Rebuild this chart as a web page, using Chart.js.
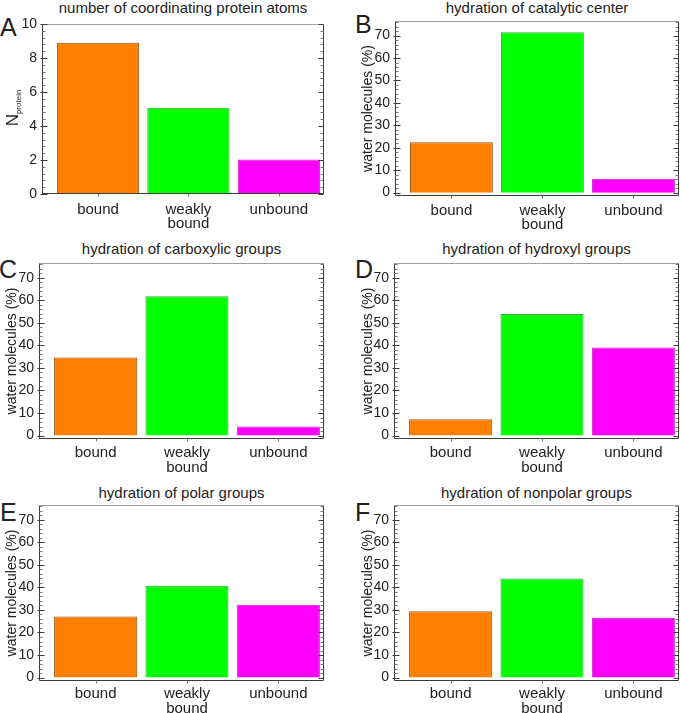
<!DOCTYPE html>
<html>
<head>
<meta charset="utf-8">
<script src="https://cdn.jsdelivr.net/npm/chart.js@4.4.0/dist/chart.umd.min.js"></script>
<style>
  html, body { margin: 0; padding: 0; background: #fff; overflow: hidden; }
  body { width: 681px; height: 713px; position: relative; font-family: "Liberation Sans", Arial, sans-serif; color: #222; }
  canvas { position: absolute; }
  .title { position: absolute; font-size: 15px; line-height: 15px; white-space: nowrap; transform: translateX(-50%); }
  .letter { position: absolute; font-size: 25px; line-height: 25px; }
</style>
</head>
<body>
<script>
const FONT = '"Liberation Sans", Arial, sans-serif';

// data
const categories = ['bound', ['weakly', 'bound'], 'unbound'];
const coordAtoms = [8.9, 5.07, 2.03];
const catalyticCenter = [22.5, 71.5, 6.2];
const carboxylic = [34.6, 61.8, 4.0];
const hydroxyl = [7.2, 53.9, 39.0];
const polar = [27.1, 40.7, 32.3];
const nonpolar = [29.4, 43.9, 26.5];
const nTicks = [0, 2, 4, 6, 8, 10];
const pctTicks = [0, 10, 20, 30, 40, 50, 60, 70];

const barFill = ['#ff8000', '#00ff00', '#ff00ff'];
const barEdge = ['#9a5516', '#3aa83a', '#c21cc2'];

// canvas = [left, top, width, height], plot = [left, top, right, bottom]
const panels = [
    { letter: 'A', title: 'number of coordinating protein atoms', values: coordAtoms, ticks: nTicks,
      ymin: 0, ymax: 10, minor: 0.4, per: 5, canvas: [0, 0, 340, 235], plot: [42, 24, 324, 194],
      letterPos: [0, 14.7], titleTop: -0.5, yTitle: null, labelPad: 8.5 },
    { letter: 'B', title: 'hydration of catalytic center', values: catalyticCenter, ticks: pctTicks,
      ymin: -1.5, ymax: 76.5, minor: 2, per: 5, canvas: [340, 0, 341, 235], plot: [395, 21, 679, 196],
      letterPos: [355, 11.7], titleTop: -0.5, yTitle: 19.9, labelPad: 7.5 },
    { letter: 'C', title: 'hydration of carboxylic groups', values: carboxylic, ticks: pctTicks,
      ymin: -1.5, ymax: 76.5, minor: 2, per: 5, canvas: [0, 235, 340, 241], plot: [39, 263, 324, 439],
      letterPos: [-1, 256.7], titleTop: 241.3, yTitle: 4.1, labelPad: 7 },
    { letter: 'D', title: 'hydration of hydroxyl groups', values: hydroxyl, ticks: pctTicks,
      ymin: -1.5, ymax: 76.5, minor: 2, per: 5, canvas: [340, 235, 341, 241], plot: [394, 263, 679, 439],
      letterPos: [355, 257], titleTop: 241.3, yTitle: 19.9, labelPad: 7 },
    { letter: 'E', title: 'hydration of polar groups', values: polar, ticks: pctTicks,
      ymin: -1.5, ymax: 76.5, minor: 2, per: 5, canvas: [0, 476, 340, 237], plot: [39, 505, 324, 681],
      letterPos: [0, 500], titleTop: 484.7, yTitle: 4.1, labelPad: 6 },
    { letter: 'F', title: 'hydration of nonpolar groups', values: nonpolar, ticks: pctTicks,
      ymin: -1.5, ymax: 76.5, minor: 2, per: 5, canvas: [340, 476, 341, 237], plot: [394, 505, 679, 681],
      letterPos: [355, 500], titleTop: 484.7, yTitle: 19.9, labelPad: 6 }
];

// box frame, inward minor/major ticks on both y sides, small ticks under categories
const framePlugin = {
    id: 'frame',
    afterDatasetsDraw(chart, args, o) {
        const { ctx, chartArea: a, scales: { x, y } } = chart;
        const line = (x1, y1, x2, y2) => { ctx.beginPath(); ctx.moveTo(x1, y1); ctx.lineTo(x2, y2); ctx.stroke(); };
        ctx.save();
        ctx.lineWidth = 1;
        const L = Math.round(a.left) + 0.5, R = Math.round(a.right) - 0.5;
        const T = Math.round(a.top) + 0.5, B = Math.round(a.bottom) - 0.5;
        ctx.strokeStyle = '#a0a0a0';
        line(L, T, R, T);
        ctx.strokeStyle = '#3a3a3a';
        line(L, T, L, B);
        line(R, T, R, B);
        line(L, B, R, B);

        const n = Math.round(o.top / o.minor);
        for (let k = 0; k <= n; k++) {
            const py = Math.round(y.getPixelForValue(k * o.minor)) + 0.5;
            if (py < a.top) continue;
            const major = k % o.per === 0;
            ctx.strokeStyle = major ? '#3a3a3a' : '#777';
            const len = major ? 5 : 3;
            line(L - (major ? 2 : 0), py, L + len, py);
            line(R - len, py, R, py);
        }
        ctx.strokeStyle = '#777';
        x.ticks.forEach(t => {
            const px = Math.round(x.getPixelForValue(t.value)) + 0.5;
            line(px, B, px, B + 3);
        });

        if (o.nLabel) {
            ctx.fillStyle = '#222';
            ctx.translate(18, 108);
            ctx.rotate(-Math.PI / 2);
            ctx.font = '17px ' + FONT;
            const wN = ctx.measureText('N').width;
            ctx.font = '8px ' + FONT;
            const wS = ctx.measureText('protein').width;
            const start = -(wN + wS) / 2;
            ctx.textBaseline = 'alphabetic';
            ctx.font = '17px ' + FONT;
            ctx.fillText('N', start, 0);
            ctx.font = '8px ' + FONT;
            ctx.fillText('protein', start + wN, 2.5);
        }
        ctx.restore();
    }
};

panels.forEach(p => {
    const [cl, ct, cw, ch] = p.canvas;
    const [pl, pt, pr, pb] = p.plot;

    const letter = document.createElement('div');
    letter.className = 'letter';
    letter.textContent = p.letter;
    letter.style.left = p.letterPos[0] + 'px';
    letter.style.top = p.letterPos[1] + 'px';
    document.body.appendChild(letter);

    const title = document.createElement('div');
    title.className = 'title';
    title.textContent = p.title;
    title.style.left = ((pl + pr) / 2) + 'px';
    title.style.top = p.titleTop + 'px';
    document.body.appendChild(title);

    const cv = document.createElement('canvas');
    cv.width = cw;
    cv.height = ch;
    cv.style.left = cl + 'px';
    cv.style.top = ct + 'px';
    cv.style.width = cw + 'px';
    cv.style.height = ch + 'px';
    document.body.appendChild(cv);

    new Chart(cv, {
        type: 'bar',
        data: {
            datasets: [{
                data: p.values.map((v, i) => ({ x: i + 1, y: v })),
                backgroundColor: barFill,
                borderColor: barEdge,
                borderWidth: 1,
                barPercentage: 0.91,
                categoryPercentage: 1
            }]
        },
        options: {
            responsive: false,
            animation: false,
            devicePixelRatio: 1,
            layout: { padding: { left: 0, top: pt - ct, right: cl + cw - pr, bottom: 0 } },
            plugins: {
                legend: { display: false },
                tooltip: { enabled: false },
                frame: { minor: p.minor, per: p.per, top: p.ymax, nLabel: p.yTitle === null }
            },
            scales: {
                x: {
                    type: 'linear',
                    offset: false,
                    min: 0.38,
                    max: 3.5,
                    grid: { display: false, drawTicks: false },
                    border: { display: false },
                    afterBuildTicks: s => { s.ticks = categories.map((c, i) => ({ value: i + 1 })); },
                    afterFit: s => { s.height = ct + ch - pb; },
                    ticks: {
                        autoSkip: false,
                        maxRotation: 0,
                        padding: p.labelPad,
                        color: '#222',
                        font: { size: 15, family: FONT, lineHeight: 0.95 },
                        callback: v => categories[v - 1]
                    }
                },
                y: {
                    min: p.ymin,
                    max: p.ymax,
                    grid: { display: false, drawTicks: false },
                    border: { display: false },
                    afterBuildTicks: s => { s.ticks = p.ticks.map(v => ({ value: v })); },
                    afterFit: s => { s.width = pl - cl; },
                    ticks: { padding: 5, color: '#222', font: { size: 14, family: FONT } },
                    title: {
                        display: p.yTitle !== null,
                        text: 'water molecules (%)',
                        color: '#222',
                        font: { size: 14, family: FONT },
                        padding: { top: p.yTitle || 0, bottom: 0 }
                    }
                }
            }
        },
        plugins: [framePlugin]
    });
});
</script>
</body>
</html>
